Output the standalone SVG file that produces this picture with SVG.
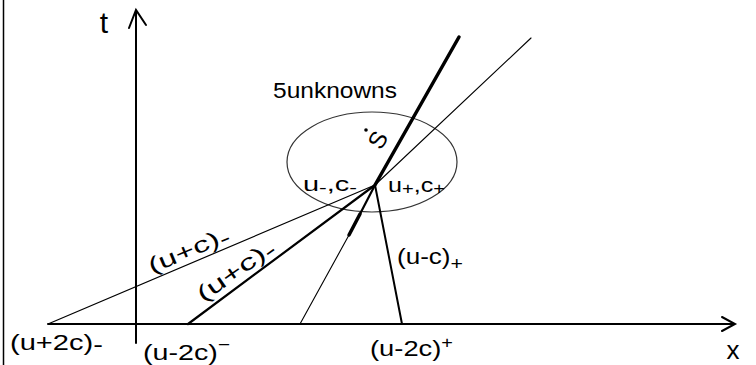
<svg xmlns="http://www.w3.org/2000/svg" width="756" height="365" viewBox="0 0 756 365">
<style>
.lbl{font-family:"Liberation Sans","DejaVu Sans",sans-serif;fill:#000}
.ln{stroke:#000;fill:none;stroke-linecap:round}
</style>
<rect width="756" height="365" fill="#fff"/>
<g id="border"><line class="ln" x1="3.5" y1="0" x2="3.5" y2="365" stroke-width="1.5"/></g>
<g id="axes">
<line class="ln" x1="136" y1="343" x2="136" y2="11" stroke-width="2"/>
<polyline class="ln" points="129,28 136,10 146,25" stroke-width="2"/>
<line class="ln" x1="48" y1="324" x2="734" y2="324" stroke-width="1.8"/>
<polyline class="ln" points="722,317 735,324 722,331" stroke-width="2"/>
</g>
<g id="ellipse"><ellipse cx="372" cy="162" rx="85" ry="50" fill="none" stroke="#333" stroke-width="1.2"/></g>
<g id="connectors">
<line class="ln" x1="459" y1="37" x2="375" y2="185" stroke-width="3.5"/>
<line class="ln" x1="375" y1="185" x2="360" y2="214" stroke-width="2.2"/>
<line class="ln" x1="360" y1="214" x2="349" y2="235" stroke-width="3.5"/>
<line class="ln" x1="349" y1="235" x2="300" y2="324" stroke-width="1.1"/>
<line class="ln" x1="531" y1="38" x2="375" y2="185" stroke-width="1.1"/>
<line class="ln" x1="375" y1="185" x2="48" y2="324" stroke-width="1.2"/>
<line class="ln" x1="375" y1="185" x2="188" y2="324" stroke-width="2.2"/>
<line class="ln" x1="375" y1="185" x2="402" y2="324" stroke-width="2"/>
</g>
<g id="labels">
<text class="lbl" x="104" y="33" text-anchor="middle" style="font-size:30px">t</text>
<text class="lbl" x="733" y="359" text-anchor="middle" style="font-size:26px">x</text>
<text class="lbl" x="273" y="98" style="font-size:22px" textLength="124" lengthAdjust="spacingAndGlyphs">5unknowns</text>
<circle cx="366" cy="130" r="1.8" fill="#000"/>
<text class="lbl" x="378" y="148" text-anchor="middle" style="font-size:24px" transform="rotate(-60 378 140)">S</text>
<text class="lbl" x="303" y="191" style="font-size:20px" textLength="54" lengthAdjust="spacingAndGlyphs">u<tspan style="font-size:16px" dy="2">-</tspan><tspan dy="-2">,c</tspan><tspan style="font-size:16px" dy="2">-</tspan></text>
<text class="lbl" x="388" y="192" style="font-size:20px" textLength="57" lengthAdjust="spacingAndGlyphs">u<tspan style="font-size:16px" dy="2">+</tspan><tspan dy="-2">,c</tspan><tspan style="font-size:16px" dy="2">+</tspan></text>
<text class="lbl" x="146" y="258" style="font-size:22px" textLength="86" lengthAdjust="spacingAndGlyphs" transform="rotate(-23 188 251)">(u+c)<tspan dy="3">-</tspan></text>
<text class="lbl" x="191" y="278" style="font-size:22px" textLength="90" lengthAdjust="spacingAndGlyphs" transform="rotate(-35 236 271)">(u+c)<tspan dy="3">-</tspan></text>
<text class="lbl" x="397" y="264" style="font-size:22px" textLength="66" lengthAdjust="spacingAndGlyphs">(u-c)<tspan dy="6" style="font-size:18px">+</tspan></text>
<text class="lbl" x="10" y="350" style="font-size:22px" textLength="93" lengthAdjust="spacingAndGlyphs">(u+2c)<tspan dy="2">-</tspan></text>
<text class="lbl" x="143" y="360" style="font-size:22px" textLength="87" lengthAdjust="spacingAndGlyphs">(u-2c)<tspan dy="-10" style="font-size:16px">−</tspan></text>
<text class="lbl" x="370" y="356" style="font-size:22px" textLength="83" lengthAdjust="spacingAndGlyphs">(u-2c)<tspan dy="-8" style="font-size:16px">+</tspan></text>
</g>
</svg>
